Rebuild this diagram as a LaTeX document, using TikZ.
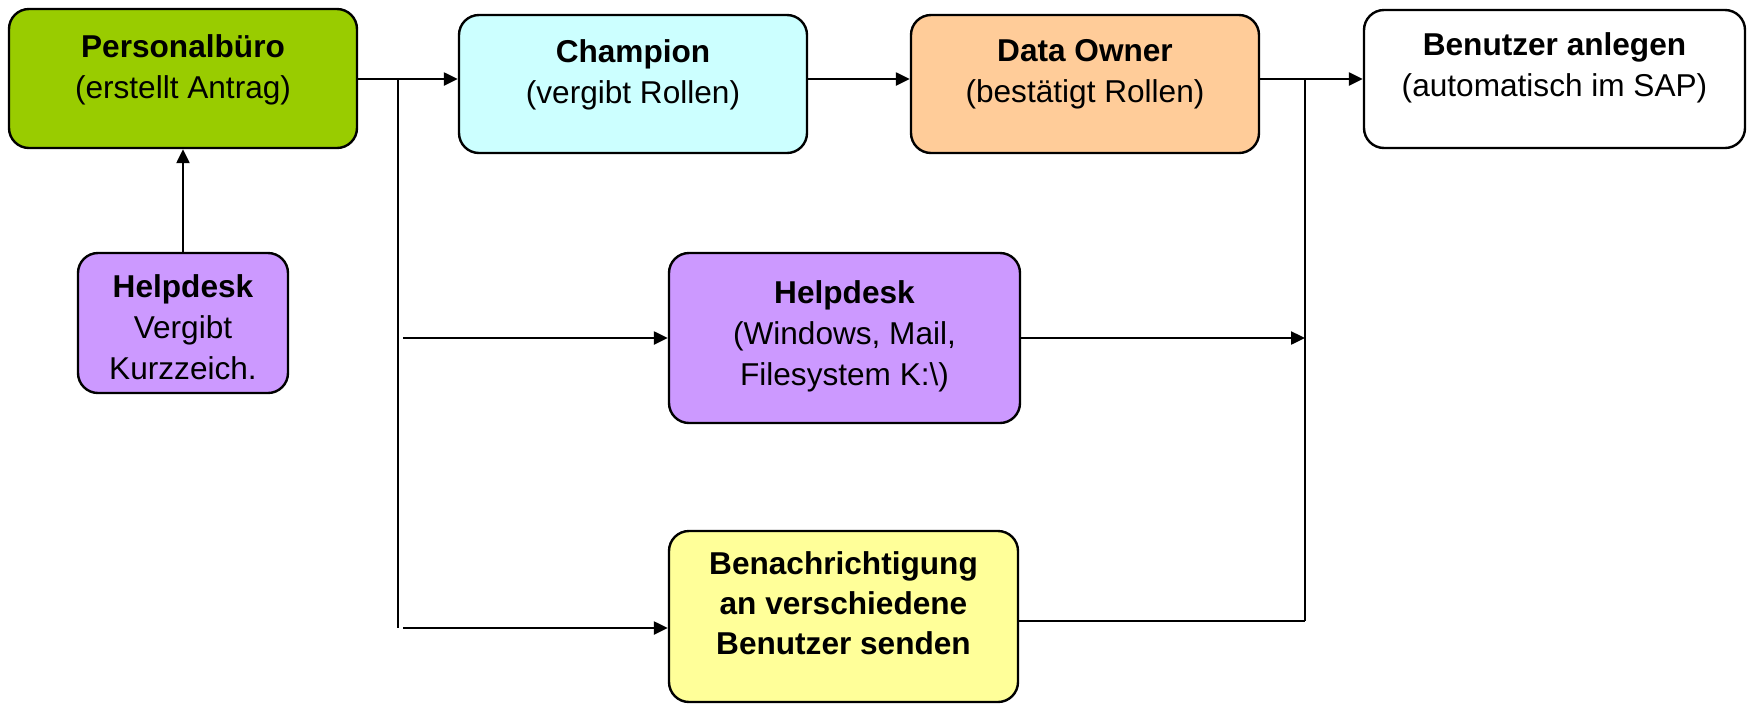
\documentclass[tikz,border=0pt]{standalone}
\usepackage{fontspec}
\setmainfont{Liberation Sans}
\usetikzlibrary{positioning}
\usetikzlibrary{arrows.meta}
\definecolor{gruen}{RGB}{153,204,0}
\definecolor{tuerkis}{RGB}{204,255,255}
\definecolor{orange}{RGB}{255,204,153}
\definecolor{lila}{RGB}{204,153,255}
\definecolor{gelb}{RGB}{255,255,153}
\tikzset{
	>={Triangle[length=7pt,width=6.5pt]},
	kasten/.style={
		rectangle,
		rounded corners=10pt,
		draw=black, line width=1.2pt,
		inner sep=0pt},
	beschriftung/.style={
		inner sep=0pt,
		align=center,
		font=\fontsize{15.8}{20.5}\selectfont},
	fett/.style={beschriftung, font=\fontsize{15.8}{20}\selectfont\bfseries},
	line/.style={draw, line width=1.2pt},
}

\begin{document}
\begin{tikzpicture}[x=0.5pt, y=-0.5pt]
	\useasboundingbox (0,0) rectangle (1750,703);
	% Kaesten
	\node[kasten, fill=gruen, minimum width=174pt, minimum height=69.5pt] (buero) at (183,78.5) {};
	\node[kasten, fill=lila, minimum width=105pt, minimum height=70pt] (helpdeskA) at (183,323) {};
	\node[kasten, fill=tuerkis, minimum width=174pt, minimum height=69pt] (champion) at (633,84) {};
	\node[kasten, fill=orange, minimum width=174pt, minimum height=69pt] (owner) at (1085,84) {};
	\node[kasten, fill=white, minimum width=190.5pt, minimum height=69pt] (anlegen) at (1554.5,79) {};
	\node[kasten, fill=lila, minimum width=175.5pt, minimum height=85pt] (helpdeskB) at (844.5,338) {};
	\node[kasten, fill=gelb, minimum width=174.5pt, minimum height=85.5pt] (benachr) at (843.5,616.5) {};
	% Texte
	\node[beschriftung, below=13pt of buero.north] (buero-text) {\textbf{Personalbüro}\\(erstellt Antrag)};
	\node[beschriftung, below=11pt of helpdeskA.north] (helpdeskA-text) {\textbf{Helpdesk}\\Vergibt\\Kurzzeich.};
	\node[beschriftung, below=12.5pt of champion.north] (champion-text) {\textbf{Champion}\\(vergibt Rollen)};
	\node[beschriftung, below=12.5pt of owner.north] (owner-text) {\textbf{Data Owner}\\(bestätigt Rollen)};
	\node[beschriftung, below=11.5pt of anlegen.north] (anlegen-text) {\textbf{Benutzer anlegen}\\(automatisch im SAP)};
	\node[beschriftung, below=14pt of helpdeskB.north] (helpdeskB-text) {\textbf{Helpdesk}\\(Windows, Mail,\\Filesystem K:\textbackslash)};
	\node[fett, below=10.5pt of benachr.north] (benachr-text) {Benachrichtigung\\an verschiedene\\Benutzer senden};
	% Verbindungen
	\coordinate (gabel) at (398,79);
	\coordinate (gabelende) at (398,628);
	\coordinate (sammel) at (1305,79);
	\coordinate (sammelende) at (1305,621);
	\draw[line,->] (helpdeskA) -- (buero);
	\draw[line,->] (buero.east |- gabel) -- (champion.west |- gabel);
	\draw[line] (gabel) -- (gabelende);
	\draw[line,->,shorten <=2.5pt] (gabel |- helpdeskB.west) -- (helpdeskB.west);
	\draw[line,->,shorten <=2.5pt] (gabelende) -- (benachr.west |- gabelende);
	\draw[line,->] (champion.east |- gabel) -- (owner.west |- gabel);
	\draw[line,->] (owner.east |- sammel) -- (anlegen.west |- sammel);
	\draw[line] (sammel) -- (sammelende);
	\draw[line,->] (helpdeskB.east) -- (sammel |- helpdeskB.east);
	\draw[line] (benachr.east |- sammelende) -- (sammelende);
\end{tikzpicture}
\end{document}
